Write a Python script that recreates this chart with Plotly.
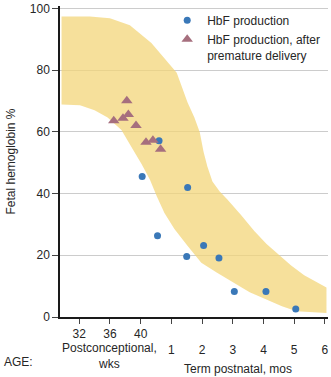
import plotly.graph_objects as go

# ---- data ----
# Postconceptional weeks axis; postnatal months are placed at 4 weeks per month after 40 wks
TERM_WEEKS = 40
WEEKS_PER_MONTH = 4

week_ticks = [32, 36, 40]
month_ticks = [1, 2, 3, 4, 5, 6]
pct_ticks = [0, 20, 40, 60, 80, 100]

# HbF production (term infants): age in postnatal months, HbF %
hbf_months = [0.05, 0.55, 0.6, 1.5, 1.53, 2.05, 2.55, 3.05, 4.08, 5.05]
hbf_pct = [45.5, 26.3, 57.1, 19.6, 42.0, 23.2, 19.1, 8.3, 8.3, 2.6]

# HbF production after premature delivery: postconceptional weeks, HbF %
prem_weeks = [36.5, 37.7, 38.2, 38.4, 39.4, 40.7, 41.6, 42.6]
prem_pct = [63.6, 64.4, 70.1, 65.6, 62.1, 56.6, 57.3, 54.4]

# Normal range band (postconceptional weeks, HbF %)
band_upper_x = [29.7, 33.4, 36.0, 38.6, 41.4, 43.1, 44.7, 46.1, 47.0, 47.7, 48.2, 48.7,
                49.35, 50.3, 51.3, 53.1, 54.8, 56.4, 58.1, 59.6, 61.3, 64.2]
band_upper_y = [97.4, 97.4, 96.8, 94.6, 88.8, 84.0, 79.2, 69.6, 64.7, 59.9, 53.5, 48.7,
                43.9, 40.7, 38.1, 33.0, 27.9, 23.7, 19.9, 16.7, 13.5, 9.6]
band_lower_x = [29.7, 32.1, 34.0, 35.7, 37.5, 38.8, 40.1, 41.2, 42.1, 43.1, 44.4, 46.1,
                47.9, 49.9, 54.2, 58.4, 60.3, 64.2]
band_lower_y = [68.9, 68.6, 67.0, 64.7, 60.6, 55.1, 49.7, 44.6, 39.1, 33.7, 28.5, 23.1,
                17.6, 14.4, 8.0, 3.5, 1.9, 1.3]

# ---- figure ----
FONT = "Liberation Sans, Arial, sans-serif"
TXT = "#262626"

hbf_x = [TERM_WEEKS + WEEKS_PER_MONTH * m for m in hbf_months]
band_x = band_upper_x + band_lower_x[::-1]
band_y = band_upper_y + band_lower_y[::-1]

fig = go.Figure()
fig.add_trace(go.Scatter(
    x=band_x, y=band_y, fill="toself", mode="lines",
    line=dict(width=0), fillcolor="rgba(243,214,122,0.75)",
    showlegend=False, hoverinfo="skip"))
fig.add_trace(go.Scatter(
    x=hbf_x, y=hbf_pct, mode="markers", name="HbF production",
    marker=dict(symbol="circle", size=7, color="#3a78b8")))
fig.add_trace(go.Scatter(
    x=prem_weeks, y=prem_pct, mode="markers",
    name="HbF production, after<br>premature delivery",
    marker=dict(symbol="triangle-up", size=10, color="#a66f7e")))

tickvals = week_ticks + [TERM_WEEKS + WEEKS_PER_MONTH * m for m in month_ticks]
ticktext = [str(w) for w in week_ticks] + ["<br>" + str(m) for m in month_ticks]

fig.update_layout(
    width=331, height=377,
    margin=dict(l=60, r=2, t=3, b=60),
    paper_bgcolor="white", plot_bgcolor="white",
    font=dict(family=FONT, size=12, color=TXT),
    showlegend=True,
    legend=dict(x=0.40, y=1.0, xanchor="left", yanchor="top",
                bgcolor="rgba(0,0,0,0)", valign="top",
                font=dict(size=12, color=TXT), tracegroupgap=0,
                itemwidth=30),
    xaxis=dict(range=[29.5, 64.4], tickmode="array", tickvals=tickvals,
               ticktext=ticktext, showgrid=False, zeroline=False,
               showline=True, linecolor="#1a1a1a", linewidth=1.5,
               ticks="outside", ticklen=5, tickwidth=1, tickcolor="#444",
               tickfont=dict(size=12, color=TXT)),
    yaxis=dict(range=[0, 100.8], tickmode="array", tickvals=pct_ticks,
               showgrid=True, gridcolor="#cccccc", gridwidth=1,
               zeroline=False, showline=True, linecolor="#1a1a1a",
               linewidth=1.5, ticks="outside", ticklen=6, tickwidth=1,
               tickcolor="#444", tickfont=dict(size=12, color=TXT),
               ticklabeloverflow="allow",
               title=dict(text="Fetal hemoglobin %", font=dict(size=12, color=TXT),
                          standoff=12)),
    annotations=[
        dict(text="Postconceptional,<br>wks", xref="x", yref="paper",
             x=36, y=-0.126, xanchor="center", yanchor="middle",
             showarrow=False, font=dict(size=12, color=TXT)),
        dict(text="Term postnatal, mos", xref="x", yref="paper",
             x=52.7, y=-0.166, xanchor="center", yanchor="middle",
             showarrow=False, font=dict(size=12, color=TXT)),
        dict(text="AGE:", xref="paper", yref="paper",
             x=-0.216, y=-0.146, xanchor="left", yanchor="middle",
             showarrow=False, font=dict(size=12, color=TXT)),
    ],
)

fig.write_html("out.html")
